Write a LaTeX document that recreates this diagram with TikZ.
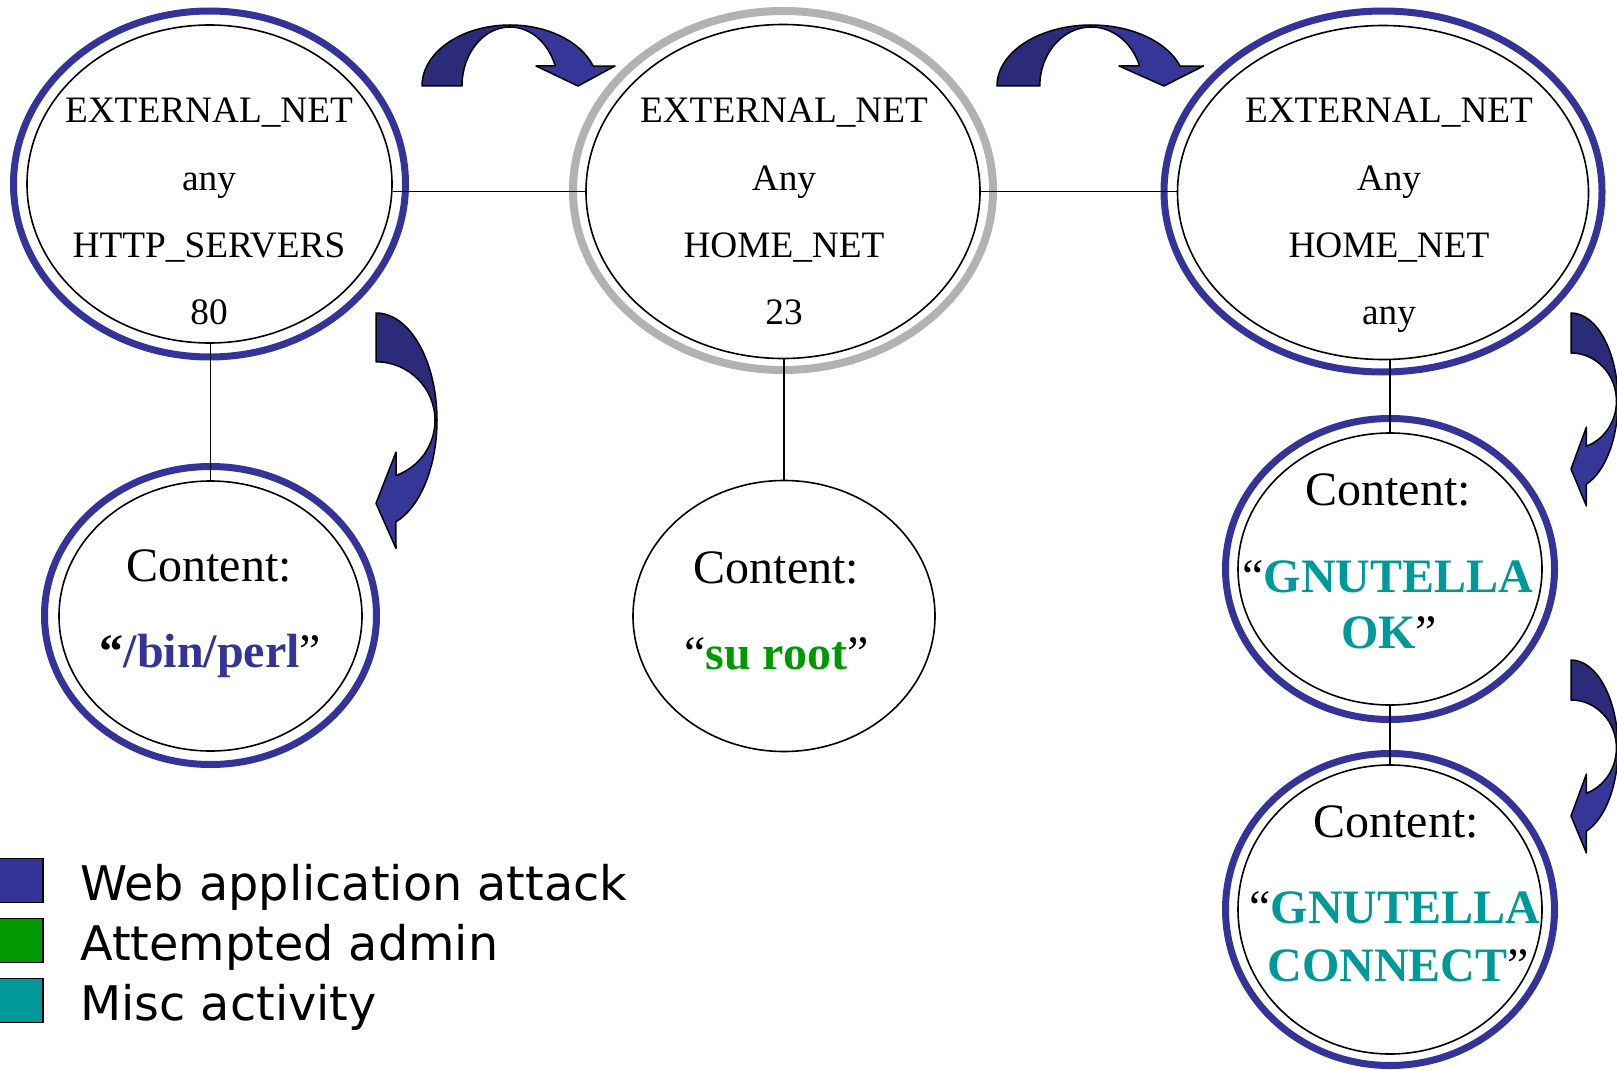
\documentclass[tikz,border=0pt]{standalone}
\usepackage{fontspec}
\setmainfont{Liberation Serif}
\newfontfamily\legfont{DejaVu Sans}
\usetikzlibrary{shapes.geometric}
\definecolor{ringblue}{HTML}{333399}
\definecolor{arrdark}{HTML}{2B2B7A}
\definecolor{arrblue}{HTML}{363699}
\definecolor{ringgray}{HTML}{B2B2B2}
\definecolor{attgreen}{HTML}{009900}
\definecolor{miscteal}{HTML}{009999}
\tikzset{
  bluering/.style={ellipse, draw=ringblue, line width=7pt, inner sep=0pt},
  grayring/.style={ellipse, draw=ringgray, line width=8pt, inner sep=0pt},
  innerell/.style={ellipse, draw=black, line width=1.6pt, fill=white, inner sep=0pt},
  small/.style={font=\fontsize{37.3pt}{40pt}\selectfont, inner sep=0pt, anchor=base},
  big/.style={font=\fontsize{48pt}{50pt}\selectfont, inner sep=0pt, anchor=base},
  conn/.style={draw=black, line width=1.6pt},
  sq/.style={draw=black, line width=1.5pt, minimum width=44pt, minimum height=44pt, inner sep=0pt},
  leg/.style={font=\legfont\fontsize{47.7pt}{50pt}\selectfont, inner sep=0pt, anchor=base west},
  arrline/.style={draw=black, line width=1.5pt, line join=round},
  curvearrow/.pic={
    \path[arrline, fill=arrdark] (0,0) arc[start angle=180, end angle=90, x radius=88, y radius=61]
      -- (88,59) arc[start angle=90, end angle=180, x radius=48, y radius=59] -- cycle;
    \path[arrline, fill=arrblue] (88,61) arc[start angle=90, end angle=19.1, x radius=88, y radius=61]
      -- (193,20) -- (156,0) -- (114,20) -- (133.2,20)
      arc[start angle=19.8, end angle=90, x radius=48, y radius=59] -- cycle;
  }
}
\begin{document}
\begin{tikzpicture}[x=1pt,y=-1pt]
\useasboundingbox[fill=white] (0,0) rectangle (1617,1070);

% top row
\node[bluering, minimum width=392pt, minimum height=346pt] (n1o) at (209.5,184) {};
\node[innerell, minimum width=365pt, minimum height=318pt] (n1i) at (209.5,184) {};
\node[grayring, minimum width=420pt, minimum height=359pt] (n2o) at (783,190.5) {};
\node[innerell, minimum width=394pt, minimum height=334pt] (n2i) at (783,191.5) {};
\node[bluering, minimum width=438pt, minimum height=361pt] (n3o) at (1383,191.5) {};
\node[innerell, minimum width=411pt, minimum height=334pt] (n3i) at (1383,192.5) {};

% lower nodes
\node[bluering, minimum width=332pt, minimum height=298pt] (n4o) at (210.5,615.5) {};
\node[innerell, minimum width=303pt, minimum height=270pt] (n4i) at (210.5,616) {};
\node[innerell, minimum width=302pt, minimum height=271pt] (n5i) at (784,616) {};
\node[bluering, minimum width=329pt, minimum height=301pt] (n6o) at (1390,569) {};
\node[innerell, minimum width=304pt, minimum height=272pt] (n6i) at (1390,569) {};
\node[bluering, minimum width=329pt, minimum height=312pt] (n7o) at (1390,909.5) {};
\node[innerell, minimum width=304pt, minimum height=289pt] (n7i) at (1390,909.5) {};

% connectors
\draw[conn] (n2i.west) -- (n2i.west -| n1i.east);
\draw[conn] (n2i.east) -- (n2i.east -| n3i.west);
\draw[conn] (n4i.north) -- (n4i.north |- n1i.south);
\draw[conn] (n5i.north) -- (n5i.north |- n2i.south);
\draw[conn] (n6i.north) -- (n6i.north |- n3i.south);
\draw[conn] (n7i.north) -- (n6i.south);

% texts
\node[small] (n1a) at (209,123) {EXTERNAL\_NET};
\node[small] (n1b) at (209,190) {any};
\node[small] (n1c) at (209,257) {HTTP\_SERVERS};
\node[small] (n1d) at (209,324) {80};
\node[small] (n2a) at (784,123) {EXTERNAL\_NET};
\node[small] (n2b) at (784,190) {Any};
\node[small] (n2c) at (784,257) {HOME\_NET};
\node[small] (n2d) at (784,324) {23};
\node[small] (n3a) at (1389,123) {EXTERNAL\_NET};
\node[small] (n3b) at (1389,190) {Any};
\node[small] (n3c) at (1389,257) {HOME\_NET};
\node[small] (n3d) at (1389,324) {any};

\node[big] (n4a) at (209,581) {Content:};
\node[big] (n4b) at (210.5,667) {\textbf{“}\textcolor{ringblue}{\textbf{/bin/perl}}”};
\node[big] (n5a) at (776.5,583) {Content:};
\node[big] (n5b) at (776.5,669) {“\textcolor{attgreen}{\textbf{su root}}”};
\node[big] (n6a) at (1388,505) {Content:};
\node[big] (n6b) at (1388,592) {“\textcolor{miscteal}{\textbf{GNUTELLA}}};
\node[big] (n6c) at (1389,648) {\textcolor{miscteal}{\textbf{OK}}”};
\node[big] (n7a) at (1396,837) {Content:};
\node[big] (n7b) at (1395,923) {“\textcolor{miscteal}{\textbf{GNUTELLA}}};
\node[big] (n7c) at (1398,981) {\textcolor{miscteal}{\textbf{CONNECT}}”};

% curved arrows
\begin{scope}[shift={(422,86)}, x={(1pt,0pt)}, y={(0pt,1pt)}]
  \pic (arA) {curvearrow};
\end{scope}
\begin{scope}[shift={(997,86)}, x={(1.07pt,0pt)}, y={(0pt,1pt)}]
  \pic (arB) {curvearrow};
\end{scope}
\begin{scope}[shift={(376,313)}, x={(0pt,-1.22pt)}, y={(1pt,0pt)}]
  \pic (arC) {curvearrow};
\end{scope}
\begin{scope}[shift={(1571,313)}, x={(0pt,-1pt)}, y={(0.77pt,0pt)}]
  \pic (arD) {curvearrow};
\end{scope}
\begin{scope}[shift={(1571,660)}, x={(0pt,-1pt)}, y={(0.77pt,0pt)}]
  \pic (arE) {curvearrow};
\end{scope}

% legend
\node[sq, fill=ringblue] (s1) at (21,880.5) {};
\node[sq, fill=attgreen] (s2) at (21,940.5) {};
\node[sq, fill=miscteal] (s3) at (21,1000.5) {};
\node[leg] (l1) at (80,900) {Web application attack};
\node[leg] (l2) at (80,960) {Attempted admin};
\node[leg] (l3) at (80,1020) {Misc activity};
\end{tikzpicture}
\end{document}
